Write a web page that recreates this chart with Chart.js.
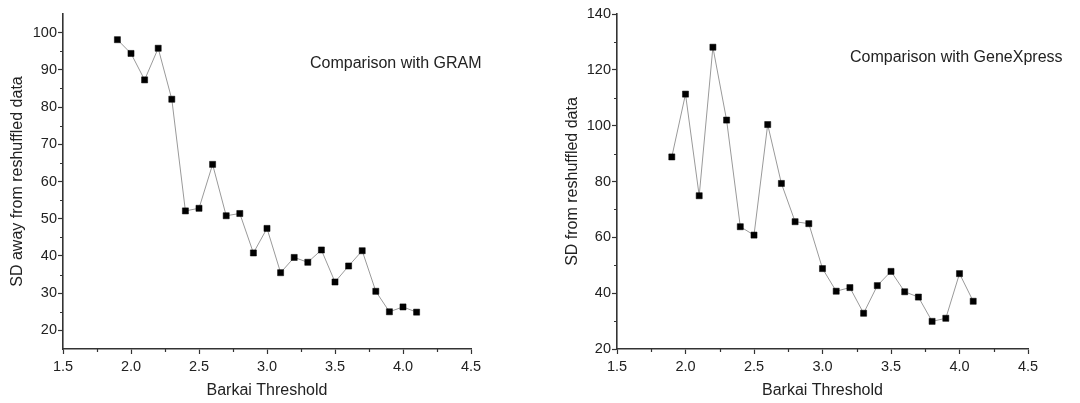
<!DOCTYPE html>
<html>
<head>
<meta charset="utf-8">
<script src="https://cdn.jsdelivr.net/npm/chart.js@4.4.1/dist/chart.umd.min.js"></script>
<style>
  html, body { margin: 0; padding: 0; background: #fff; }
  body { width: 1080px; height: 403px; position: relative; overflow: hidden; font-family: "Liberation Sans", Arial, sans-serif; }
  .panel { position: absolute; top: 0; width: 540px; height: 403px; }
  .note { position: absolute; font-size: 16px; color: #222; white-space: nowrap; line-height: 18px; }
</style>
</head>
<body>
<div class="panel" style="left:0"><canvas id="c1" width="540" height="403"></canvas></div>
<div class="panel" style="left:540px"><canvas id="c2" width="540" height="403"></canvas></div>
<div class="note" style="left:310px; top:54px;">Comparison with GRAM</div>
<div class="note" style="left:850px; top:48px;">Comparison with GeneXpress</div>
<script>
// ---- data ----
const thresholds = [1.9, 2.0, 2.1, 2.2, 2.3, 2.4, 2.5, 2.6, 2.7, 2.8, 2.9, 3.0, 3.1, 3.2, 3.3, 3.4, 3.5, 3.6, 3.7, 3.8, 3.9, 4.0, 4.1];
const gramSD = [98.1, 94.4, 87.3, 95.8, 82.1, 52.1, 52.8, 64.6, 50.8, 51.4, 40.8, 47.4, 35.5, 39.6, 38.3, 41.6, 33.0, 37.3, 41.4, 30.5, 25.0, 26.3, 24.9];
const geneXpressSD = [88.8, 111.3, 74.9, 128.1, 102.0, 63.8, 60.8, 100.4, 79.3, 65.6, 64.9, 48.8, 40.7, 42.0, 32.8, 42.7, 47.8, 40.5, 38.6, 29.9, 31.0, 47.0, 37.1];
const xTicks = [1.5, 2.0, 2.5, 3.0, 3.5, 4.0, 4.5];
const xMinorTicks = [1.75, 2.25, 2.75, 3.25, 3.75, 4.25];
const yTicksLeft = [20, 30, 40, 50, 60, 70, 80, 90, 100];
const yMinorLeft = [25, 35, 45, 55, 65, 75, 85, 95];
const yTicksRight = [20, 40, 60, 80, 100, 120, 140];
const yMinorRight = [30, 50, 70, 90, 110, 130];
const xTitle = "Barkai Threshold";
const yTitleLeft = "SD away from reshuffled data";
const yTitleRight = "SD from reshuffled data";

const AXIS = '#333';
const TEXT = '#222';
const FONT = '"Liberation Sans", Arial, sans-serif';

const minorTickPlugin = {
  id: 'minorTicks',
  afterDraw(chart, args, opts) {
    const ctx = chart.ctx;
    const xs = chart.scales.x, ys = chart.scales.y;
    ctx.save();
    ctx.strokeStyle = AXIS;
    ctx.lineWidth = 1.2;
    ctx.beginPath();
    opts.x.forEach(v => {
      const px = Math.round(xs.getPixelForValue(v)) + 0.5;
      ctx.moveTo(px, xs.top);
      ctx.lineTo(px, xs.top + 3);
    });
    opts.y.forEach(v => {
      const py = Math.round(ys.getPixelForValue(v)) + 0.5;
      ctx.moveTo(ys.right, py);
      ctx.lineTo(ys.right - 3, py);
    });
    ctx.stroke();
    ctx.restore();
  }
};

function makeChart(id, values, yMin, yMax, yTicks, yMinor, yTitle, yWidth, padRight, yTitlePad) {
  const points = thresholds.map((t, i) => ({ x: t, y: values[i] }));
  return new Chart(document.getElementById(id), {
    type: 'scatter',
    data: {
      datasets: [{
        data: points,
        showLine: true,
        borderColor: '#9a9a9a',
        borderWidth: 1,
        pointStyle: 'rect',
        pointRadius: 4.3,
        pointHoverRadius: 4.3,
        pointBackgroundColor: '#000',
        pointBorderColor: '#000',
        pointBorderWidth: 0.5
      }]
    },
    options: {
      responsive: false,
      animation: false,
      events: [],
      layout: { padding: { top: 14, right: padRight, bottom: 0, left: 0 } },
      plugins: {
        legend: { display: false },
        tooltip: { enabled: false },
        minorTicks: { x: xMinorTicks, y: yMinor }
      },
      scales: {
        x: {
          type: 'linear',
          min: 1.5, max: 4.5,
          afterBuildTicks: s => { s.ticks = xTicks.map(v => ({ value: v })); },
          afterFit: s => { s.height = 54; },
          border: { display: true, color: AXIS, width: 1.6 },
          grid: { display: true, drawOnChartArea: false, drawTicks: true, tickLength: 5, tickColor: AXIS, tickWidth: 1.2 },
          ticks: { color: TEXT, font: { family: FONT, size: 14.5 }, padding: 4, maxRotation: 0, callback: v => v.toFixed(1) },
          title: { display: true, text: xTitle, color: TEXT, font: { family: FONT, size: 16 }, padding: { top: 0, bottom: 3 } }
        },
        y: {
          type: 'linear',
          min: yMin, max: yMax,
          afterBuildTicks: s => { s.ticks = yTicks.map(v => ({ value: v })); },
          afterFit: s => { s.width = yWidth; },
          border: { display: true, color: AXIS, width: 1.6 },
          grid: { display: true, drawOnChartArea: false, drawTicks: true, tickLength: 5, tickColor: AXIS, tickWidth: 1.2 },
          ticks: { color: TEXT, font: { family: FONT, size: 14.5 }, padding: 1 },
          title: { display: true, text: yTitle, color: TEXT, font: { family: FONT, size: 16 }, padding: { top: yTitlePad, bottom: 0 } }
        }
      }
    },
    plugins: [minorTickPlugin]
  });
}

makeChart('c1', gramSD, 15, 105, yTicksLeft, yMinorLeft, yTitleLeft, 63, 69, 8);
makeChart('c2', geneXpressSD, 20, 140, yTicksRight, yMinorRight, yTitleRight, 77, 52, 23);
</script>
</body>
</html>
